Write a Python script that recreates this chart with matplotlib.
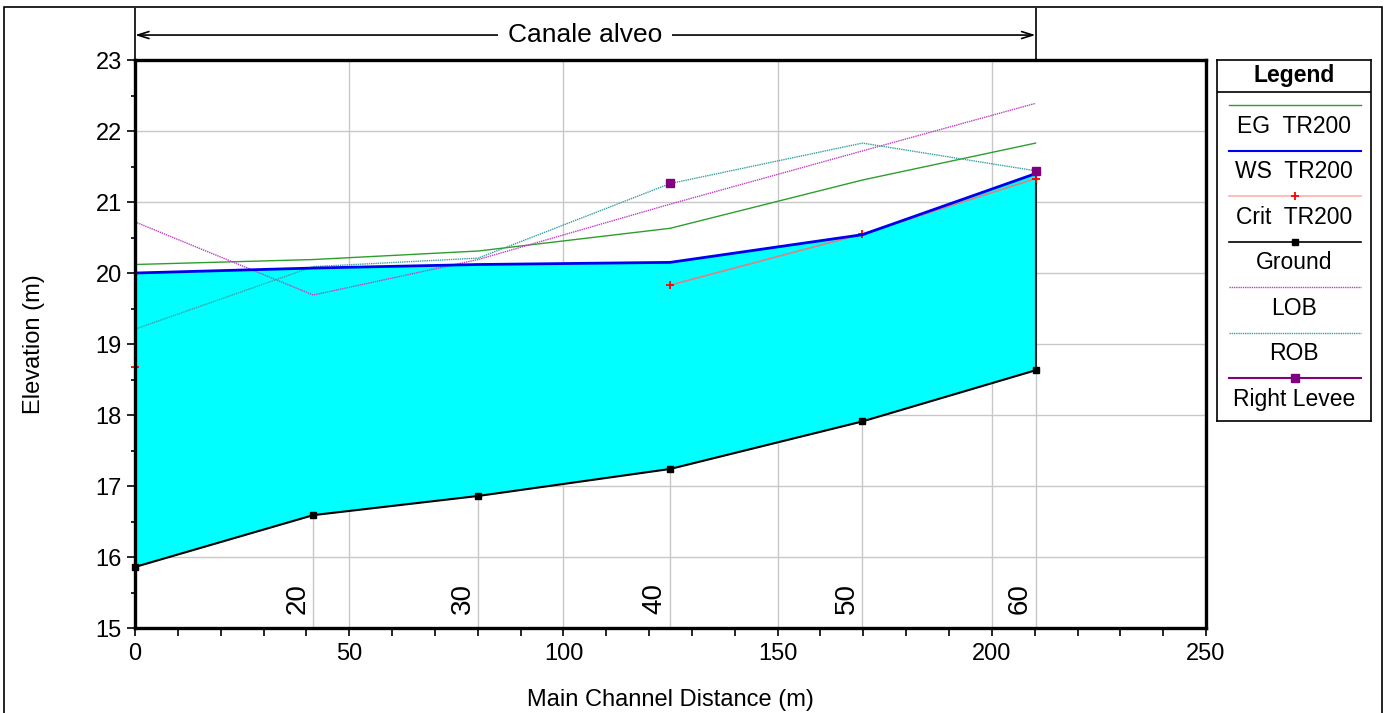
import numpy as np
import matplotlib
matplotlib.use("Agg")
import matplotlib.pyplot as plt
from matplotlib.lines import Line2D
from matplotlib.patches import Rectangle

plt.rcParams['font.family'] = ['Liberation Sans', 'DejaVu Sans']

# main channel distance of each cross section (m)
stations = [0, 41.6, 80.1, 124.9, 169.8, 210.2]
station_names = ["10", "20", "30", "40", "50", "60"]

ground = [15.86, 16.59, 16.86, 17.24, 17.91, 18.63]
ws_tr200 = [20.00, 20.07, 20.12, 20.15, 20.54, 21.40]
eg_tr200 = [20.12, 20.19, 20.31, 20.63, 21.31, 21.83]
crit_tr200 = [18.68, np.nan, np.nan, 19.83, 20.55, 21.33]
lob = [20.72, 19.69, 20.19, 20.97, 21.72, 22.39]
rob = [19.21, 20.09, 20.21, 21.26, 21.83, 21.44]
right_levee = [np.nan, np.nan, np.nan, 21.27, np.nan, 21.44]

fig = plt.figure(figsize=(13.88, 7.13), dpi=100)
ax = fig.add_axes([0.0973, 0.1192, 0.7716, 0.7966])

# water between ground and water surface
ax.fill_between(stations, ground, ws_tr200, color='#00ffff', lw=0, zorder=2)
ax.vlines(stations[-1], ground[-1], ws_tr200[-1], color='#202020', lw=1.5, zorder=3)

# station grid lines below the ground
ax.vlines(stations[1:], 15, ground[1:], color='#c8c8c8', lw=1, zorder=1)

ax.plot(stations, eg_tr200, color='#2e9e2e', lw=1, zorder=4)
ax.plot(stations, lob, color='#c040c0', lw=1, ls=(0, (1, 0.6)), zorder=4)
ax.plot(stations, rob, color='#3a9fa0', lw=1, ls=(0, (1, 0.6)), zorder=4)
ax.plot(stations, crit_tr200, color='#e08080', lw=1.2, marker='+', ms=6,
        mec='red', mew=1.3, zorder=5, clip_on=False)
ax.plot(stations, ws_tr200, color='#0000ee', lw=2, zorder=5)
ax.plot(stations, ground, color='black', lw=1.5, marker='s', ms=5, zorder=6, clip_on=False)
ax.plot(stations, right_levee, color='#800080', lw=1.5, marker='s', ms=6, zorder=7)

# station labels
for x, name in zip(stations[1:], station_names[1:]):
    ax.annotate(name, (x, 15), xytext=(-2, 10), textcoords='offset points',
                rotation=90, ha='right', va='bottom', fontsize=20, zorder=8)

ax.set_xlim(0, 250)
ax.set_ylim(15, 23)
ax.set_xticks(np.arange(0, 251, 50))
ax.set_xticks(np.arange(0, 251, 10), minor=True)
ax.set_yticks(np.arange(15, 24, 1))
ax.set_yticks(np.arange(15, 23.01, 0.5), minor=True)
ax.tick_params(axis='both', labelsize=17)
ax.tick_params(axis='x', which='major', length=6, width=1.2, pad=5)
ax.tick_params(axis='x', which='minor', length=6, width=1.2)
ax.tick_params(axis='y', which='major', length=6, width=1.2, pad=3.5)
ax.tick_params(axis='y', which='minor', length=3, width=1.2)
ax.grid(True, which='major', color='#c8c8c8', lw=1)
ax.set_axisbelow(True)
for sp in ax.spines.values():
    sp.set_linewidth(2.4)
    sp.set_zorder(10)

ax.set_xlabel("Main Channel Distance (m)", fontsize=17, labelpad=17)
ax.set_ylabel("Elevation (m)", fontsize=17, labelpad=36)

# reach annotation above the plot
trans = ax.get_xaxis_transform()
ax.vlines([stations[0], stations[-1]], 1.0, 1.0915, transform=trans, color='black',
          lw=1.2, clip_on=False)
ax.annotate("", xy=(stations[0], 1.044), xytext=(stations[-1], 1.044), xycoords=trans,
            textcoords=trans, arrowprops=dict(arrowstyle='<->,head_length=0.8,head_width=0.25',
                                              color='black', lw=1.2, shrinkA=0, shrinkB=0))
ax.text((stations[0] + stations[-1]) / 2, 1.044, "Canale alveo", transform=trans,
        ha='center', va='center', fontsize=19,
        bbox=dict(facecolor='white', edgecolor='none', pad=7))

# outer frame
fig.patches.append(Rectangle((0.003, -0.1), 0.9927, 1.09, transform=fig.transFigure,
                             fill=False, edgecolor='black', lw=1.2))

# legend box
lg = fig.add_axes([0.8768, 0.4095, 0.111, 0.5063])
lg.set_xlim(1217, 1371)
lg.set_ylim(421, 60)
lg.set_xticks([])
lg.set_yticks([])
for sp in lg.spines.values():
    sp.set_linewidth(1.2)
lg.axhline(92, color='black', lw=1.2)
lg.text(1294, 75, "Legend", ha='center', va='center', fontsize=16.5, fontweight='bold')

entries = [
    ("EG  TR200", dict(color='#2e9e2e', lw=1)),
    ("WS  TR200", dict(color='#0000ee', lw=1.5)),
    ("Crit  TR200", dict(color='#ffb0b0', lw=1.2, marker='+', ms=6, mec='red', mew=1.3)),
    ("Ground", dict(color='black', lw=1.2, marker='s', ms=5)),
    ("LOB", dict(color='#c040c0', lw=1, ls=(0, (1, 0.6)))),
    ("ROB", dict(color='#3a9fa0', lw=1, ls=(0, (1, 0.6)))),
    ("Right Levee", dict(color='#800080', lw=1.5, marker='s', ms=6)),
]
for i, (label, style) in enumerate(entries):
    y = 105 + i * 45.5
    lg.add_line(Line2D([1229, 1361], [y, y], markevery=[], **style))
    if 'marker' in style:
        lg.plot([1295], [y], ls='none', marker=style['marker'], ms=style['ms'],
                color=style['color'], mec=style.get('mec', style['color']),
                mew=style.get('mew', 1))
    lg.text(1294, y + 21, label, ha='center', va='center', fontsize=16.5)

fig.savefig("out.png", dpi=100)
